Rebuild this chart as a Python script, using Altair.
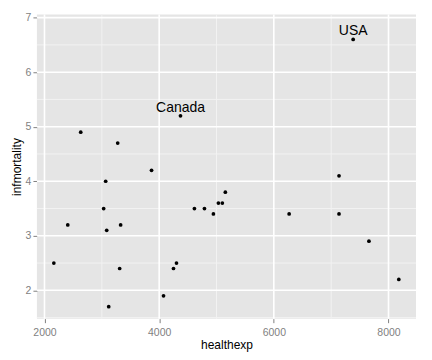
import altair as alt
import pandas as pd

healthexp = [2163, 2406, 3032, 3067, 3085, 3120, 3311, 3328, 3867, 4076,
             4250, 4302, 4615, 4790, 4946, 5033, 5102, 5154, 6267, 7137,
             7137, 7659, 8180, 2632, 3277, 4372, 7384]
infmortality = [2.5, 3.2, 3.5, 4.0, 3.1, 1.7, 2.4, 3.2, 4.2, 1.9,
                2.4, 2.5, 3.5, 3.5, 3.4, 3.6, 3.6, 3.8, 3.4, 3.4,
                4.1, 2.9, 2.2, 4.9, 4.7, 5.2, 6.6]
labels = [""] * 25 + ["Canada", "USA"]

df = pd.DataFrame({"healthexp": healthexp, "infmortality": infmortality, "label": labels})

x_scale = alt.Scale(domain=[1868, 8480], nice=False, zero=False)
y_scale = alt.Scale(domain=[1.48, 7.06], nice=False, zero=False)

x_enc = alt.X("healthexp:Q", scale=x_scale,
              axis=alt.Axis(title="healthexp", values=[2000, 4000, 6000, 8000],
                            format="d", labelPadding=5, titlePadding=1))
y_enc = alt.Y("infmortality:Q", scale=y_scale,
              axis=alt.Axis(title="infmortality", values=[2, 3, 4, 5, 6, 7],
                            format="d", labelPadding=2, titleX=-13))

# minor grid lines
minor_x = pd.DataFrame({"v": [3000, 5000, 7000]})
minor_y = pd.DataFrame({"v": [1.5, 2.5, 3.5, 4.5, 5.5, 6.5]})
major_x = pd.DataFrame({"v": [2000, 4000, 6000, 8000]})
major_y = pd.DataFrame({"v": [2, 3, 4, 5, 6, 7]})

mx = alt.Chart(minor_x).mark_rule(color="#F2F2F2", strokeWidth=1).encode(
    x=alt.X("v:Q", scale=x_scale))
my = alt.Chart(minor_y).mark_rule(color="#F2F2F2", strokeWidth=1).encode(
    y=alt.Y("v:Q", scale=y_scale))
gx = alt.Chart(major_x).mark_rule(color="white", strokeWidth=1.6).encode(
    x=alt.X("v:Q", scale=x_scale))
gy = alt.Chart(major_y).mark_rule(color="white", strokeWidth=1.6).encode(
    y=alt.Y("v:Q", scale=y_scale))

points = alt.Chart(df).mark_circle(color="black", opacity=1, size=14).encode(
    x=x_enc, y=y_enc)

text = alt.Chart(df).transform_filter("datum.label != ''").mark_text(
    fontSize=14, font="Liberation Sans", color="black", baseline="alphabetic", dy=-4
).encode(x=alt.X("healthexp:Q", scale=x_scale), y=alt.Y("infmortality:Q", scale=y_scale),
         text="label:N")

chart = alt.layer(mx, my, gx, gy, points, text).properties(
    width=380, height=305,
    autosize=alt.AutoSizeParams(type="none"),
    padding={"left": 29, "top": 6, "right": 8, "bottom": 34},
).configure_view(
    fill="#E5E5E5", stroke=None
).configure_axis(
    grid=False, domain=False,
    tickColor="#7F7F7F", tickSize=4, tickWidth=1,
    labelColor="#7F7F7F", labelFont="Liberation Sans", labelFontSize=10.5,
    titleFont="Liberation Sans", titleFontSize=12, titleFontWeight="normal",
    titleColor="black"
)

chart.save("out.html", embed_options={"renderer": "svg", "actions": False})
